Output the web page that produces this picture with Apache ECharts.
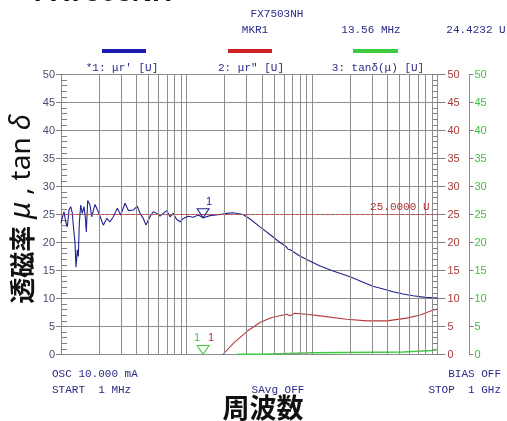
<!DOCTYPE html>
<html><head><meta charset="utf-8">
<script src="https://cdn.jsdelivr.net/npm/echarts@6/dist/echarts.min.js"></script>
<style>html,body{margin:0;padding:0;background:#fff}#c{width:507px;height:421px}</style>
</head><body><div id="c"></div>
<script>
// ---- data (frequency in MHz, values in U) ----
const muRealFreq = [1, 1.024, 1.056, 1.09, 1.123, 1.158, 1.195, 1.23, 1.253, 1.293, 1.317, 1.349, 1.374, 1.399, 1.435, 1.478, 1.525, 1.562, 1.591, 1.632, 1.702, 1.756, 1.866, 1.983, 2.046, 2.173, 2.313, 2.458, 2.611, 2.81, 2.99, 3.236, 3.439, 3.769, 4.055, 4.261, 4.527, 4.757, 4.962, 5.213, 5.439, 5.788, 6.151, 6.535, 6.956, 7.389, 7.85, 8.353, 8.876, 9.43, 10.33, 11.33, 12.42, 13.56, 15.39, 18.49, 21.0, 23.5, 28.2, 32.1, 38.5, 47, 55.6, 62, 64.5, 67, 80, 96, 116, 143.5, 201, 250, 306, 370, 442, 530, 638, 800, 1000];
const muRealVal = [23.5, 23.7, 25.5, 23.7, 22.8, 25.8, 26.4, 25.3, 23.1, 19.9, 15.6, 18.7, 17.5, 23.4, 26.7, 25.2, 26.4, 24.6, 21.9, 27.5, 26.7, 24.6, 26.8, 25.5, 25.2, 23.1, 24.3, 23.7, 24.6, 26.1, 24.9, 27.0, 25.7, 25.8, 26.5, 25.2, 24.3, 23.1, 24.0, 24.9, 25.5, 25.2, 24.7, 25.2, 25.7, 24.6, 25.2, 24.1, 23.7, 24.3, 24.7, 24.5, 24.9, 24.42, 24.8, 25.0, 25.2, 25.3, 25.0, 24.2, 22.8, 21.3, 20.0, 19.3, 18.8, 18.7, 17.6, 16.7, 15.8, 15.0, 13.9, 13.0, 12.2, 11.7, 11.2, 10.8, 10.5, 10.2, 10.1];
const muImagFreq = [19.5, 23.6, 30.2, 38.5, 47.7, 62.9, 66.8, 73.2, 90.7, 116, 189, 273, 394, 568, 726, 926, 1000];
const muImagVal = [0.0, 2.0, 4.1, 5.7, 6.6, 7.2, 6.9, 7.35, 7.2, 6.9, 6.3, 6.0, 6.0, 6.5, 7.05, 7.95, 8.1];
const tanFreq = [25.7, 40.7, 101, 531, 903, 1000];
const tanVal = [0.05, 0.3, 0.45, 0.7, 0.9, 0.9];
const gridFreqs = [2, 3, 4, 5, 6, 7, 8, 9, 20, 30, 40, 50, 60, 70, 80, 90, 200, 300, 400, 500, 600, 700, 800, 900];
const markerFreq = 13.56;
const markerVal = 24.4232;
const refLevel = 25;

const zip = (a, b) => a.map((v, i) => [v, b[i]]);
const MONO = '"Liberation Mono", "DejaVu Sans Mono", monospace';
const SANS = '"Liberation Sans", Arial, sans-serif';
const NAVY = '#2a2a88';
const BLUE = '#22228f', RED = '#b8393a', GREEN = '#3fcb3f';
const GRIDC = '#8e8e8e';
const TICKC = '#808080';

const chart = echarts.init(document.getElementById('c'));
const yBase = {type: 'value', min: 0, max: 50, interval: 5, gridIndex: 0};
chart.setOption({
  animation: false,
  grid: {left: 61, top: 74.5, width: 376.5, height: 280, show: false},
  xAxis: {type: 'log', logBase: 10, min: 1, max: 1000,
    axisLine: {show: true, lineStyle: {color: GRIDC}}, axisTick: {show: false}, axisLabel: {show: false},
    splitLine: {show: true, lineStyle: {color: GRIDC, width: 1}}},
  yAxis: [
    Object.assign({}, yBase, {position: 'left',
      axisLine: {show: true, lineStyle: {color: GRIDC}},
      axisTick: {show: true, length: 5, lineStyle: {color: TICKC}},
      axisLabel: {color: '#4a4a70', fontSize: 11, margin: 6, fontFamily: SANS},
      splitLine: {show: true, lineStyle: {color: GRIDC}}}),
    Object.assign({}, yBase, {position: 'left', axisLine: {show: false}, axisLabel: {show: false},
      axisTick: {show: true, inside: true, length: 6, lineStyle: {color: TICKC}},
      minorTick: {show: true, splitNumber: 5, length: 6, lineStyle: {color: TICKC}},
      splitLine: {show: false}}),
    Object.assign({}, yBase, {position: 'right',
      axisLine: {show: true, lineStyle: {color: GRIDC}},
      axisTick: {show: true, length: 8, lineStyle: {color: TICKC}},
      axisLabel: {color: '#a83a3a', fontSize: 11, margin: 10, fontFamily: SANS},
      splitLine: {show: false}}),
    Object.assign({}, yBase, {position: 'right', axisLine: {show: false}, axisLabel: {show: false},
      axisTick: {show: true, inside: true, length: 5, lineStyle: {color: TICKC}},
      minorTick: {show: true, splitNumber: 5, length: 5, lineStyle: {color: TICKC}},
      splitLine: {show: false}}),
    Object.assign({}, yBase, {position: 'right', offset: 32,
      axisLine: {show: true, lineStyle: {color: GRIDC}},
      axisTick: {show: true, length: 4, lineStyle: {color: TICKC}},
      axisLabel: {color: '#44bb44', fontSize: 11, margin: 5, fontFamily: SANS},
      splitLine: {show: false}})
  ],
  series: [
    {type: 'line', name: 'grid', data: [], z: 1, silent: true,
      markLine: {silent: true, symbol: ['none', 'none'], label: {show: false}, animation: false,
        lineStyle: {color: GRIDC, type: 'solid', width: 1},
        emphasis: {disabled: true},
        data: gridFreqs.map(f => ({xAxis: f}))}},
    {type: 'line', name: "μr'", data: zip(muRealFreq, muRealVal), showSymbol: false, symbol: 'none',
      lineStyle: {color: BLUE, width: 1.1}, itemStyle: {color: BLUE}, z: 3,
      markPoint: {symbol: 'triangle', symbolRotate: 180, symbolSize: [12, 9], symbolOffset: [0, '-50%'],
        itemStyle: {color: 'rgba(0,0,0,0)', borderColor: BLUE, borderWidth: 1},
        label: {show: true, formatter: '1', position: 'top', distance: 1, offset: [6, 0], color: BLUE, fontSize: 11, fontFamily: SANS},
        data: [{coord: [markerFreq, markerVal]}]}},
    {type: 'line', name: 'μr"', data: zip(muImagFreq, muImagVal), showSymbol: false, symbol: 'none',
      lineStyle: {color: RED, width: 1.1}, itemStyle: {color: RED}, z: 3,
      markLine: {silent: true, symbol: ['none', 'none'], animation: false,
        lineStyle: {color: '#d04a4a', type: [3, 2], width: 1},
        label: {show: true, position: 'insideEndTop', formatter: '25.0000 U', color: '#b03030', fontSize: 11, fontFamily: MONO, distance: 2, padding: [0, 6, 0, 0]},
        data: [{yAxis: refLevel}]},
      markPoint: {symbol: 'triangle', symbolRotate: 180, symbolSize: [12, 9], symbolOffset: [0, '-50%'],
        itemStyle: {color: 'rgba(0,0,0,0)', borderColor: 'rgba(0,0,0,0)', borderWidth: 0},
        label: {show: true, formatter: '1', position: 'top', distance: 2, offset: [8, 0], color: '#c03030', fontSize: 11, fontFamily: SANS},
        data: [{coord: [markerFreq, 0]}]}},
    {type: 'line', name: 'tanδ', data: zip(tanFreq, tanVal), step: 'end', showSymbol: false, symbol: 'none',
      lineStyle: {color: GREEN, width: 1.5}, itemStyle: {color: GREEN}, z: 4,
      markPoint: {symbol: 'triangle', symbolRotate: 180, symbolSize: [12, 9], symbolOffset: [0, '-50%'],
        itemStyle: {color: 'rgba(0,0,0,0)', borderColor: GREEN, borderWidth: 1},
        label: {show: true, formatter: '1', position: 'top', distance: 2, offset: [-6, 0], color: GREEN, fontSize: 11, fontFamily: SANS},
        data: [{coord: [markerFreq, 0]}]}}
  ],
  graphic: [
    {type: 'text', x: 103, y: -7, style: {text: 'FX7503NH', fill: '#111', font: 'bold 28px ' + SANS, align: 'center', verticalAlign: 'middle'}},
    {type: 'text', x: 277, y: 14, style: {text: 'FX7503NH', fill: NAVY, font: '11px ' + MONO, align: 'center', verticalAlign: 'middle'}},
    {type: 'text', x: 255, y: 30, style: {text: 'MKR1', fill: NAVY, font: '11px ' + MONO, align: 'center', verticalAlign: 'middle'}},
    {type: 'text', x: 371, y: 30, style: {text: '13.56 MHz', fill: NAVY, font: '11px ' + MONO, align: 'center', verticalAlign: 'middle'}},
    {type: 'text', x: 476, y: 30, style: {text: '24.4232 U', fill: NAVY, font: '11px ' + MONO, align: 'center', verticalAlign: 'middle'}},
    {type: 'rect', shape: {x: 102, y: 49, width: 44, height: 4}, style: {fill: '#1c1cb0'}},
    {type: 'rect', shape: {x: 228, y: 49, width: 44, height: 4}, style: {fill: '#cc2424'}},
    {type: 'rect', shape: {x: 353, y: 49, width: 45, height: 4}, style: {fill: '#3ccc3c'}},
    {type: 'text', x: 122, y: 68, style: {text: "*1: μr' [U]", fill: NAVY, font: '11px ' + MONO, align: 'center', verticalAlign: 'middle'}},
    {type: 'text', x: 251, y: 68, style: {text: '2: μr" [U]', fill: NAVY, font: '11px ' + MONO, align: 'center', verticalAlign: 'middle'}},
    {type: 'text', x: 378, y: 68, style: {text: '3: tanδ(μ) [U]', fill: NAVY, font: '11px ' + MONO, align: 'center', verticalAlign: 'middle'}},
    {type: 'text', x: 52, y: 374, style: {text: 'OSC 10.000 mA', fill: NAVY, font: '11px ' + MONO, align: 'left', verticalAlign: 'middle'}},
    {type: 'text', x: 52, y: 390, style: {text: 'START  1 MHz', fill: NAVY, font: '11px ' + MONO, align: 'left', verticalAlign: 'middle'}},
    {type: 'text', x: 278, y: 390, style: {text: 'SAvg OFF', fill: NAVY, font: '11px ' + MONO, align: 'center', verticalAlign: 'middle'}},
    {type: 'text', x: 501, y: 374, style: {text: 'BIAS OFF', fill: NAVY, font: '11px ' + MONO, align: 'right', verticalAlign: 'middle'}},
    {type: 'text', x: 501, y: 390, style: {text: 'STOP  1 GHz', fill: NAVY, font: '11px ' + MONO, align: 'right', verticalAlign: 'middle'}},
    {type: 'text', x: 263, y: 408, style: {text: '周波数', fill: '#111', font: 'bold 27px "Noto Sans CJK JP"', align: 'center', verticalAlign: 'middle'}},
    {type: 'text', x: 22, y: 209, rotation: Math.PI / 2, style: {
      text: '{c|透磁率} {i|μ} , {g|tan} {i|δ}', align: 'center', verticalAlign: 'middle',
      fill: '#111', font: '27px "Noto Sans", "DejaVu Sans"',
      rich: {
        c: {fill: '#111', font: 'bold 26px "Noto Sans CJK JP"'},
        g: {fill: '#111', font: '28px "Noto Sans", "DejaVu Sans"'},
        i: {fill: '#111', font: 'italic 29px "Noto Sans", "DejaVu Sans"'}
      }}}
  ]
});
</script></body></html>
